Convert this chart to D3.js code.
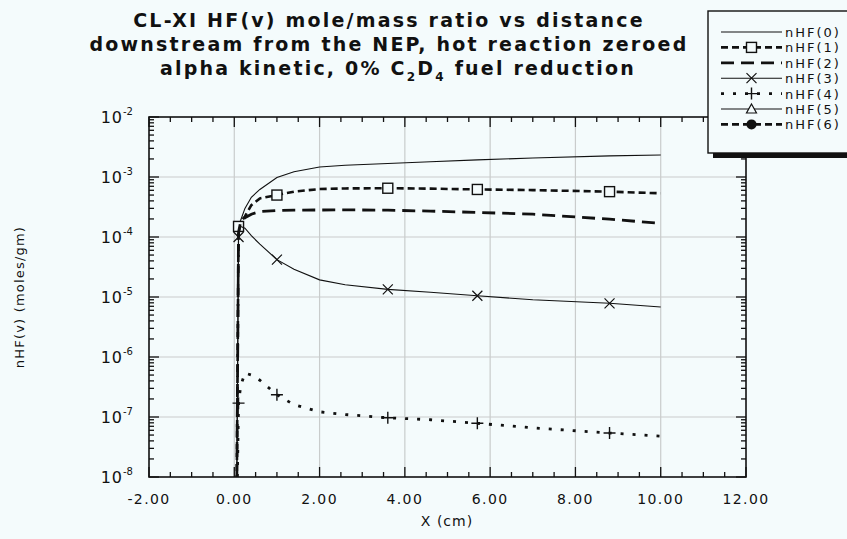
<!DOCTYPE html>
<html>
<head>
<meta charset="utf-8">
<script src="https://cdn.jsdelivr.net/npm/d3@7"></script>
<style>
    body { margin: 0; background: #f4fbfc; }
    svg { display: block; }
    text { font-family: "DejaVu Sans", sans-serif; fill: #111; }
</style>
</head>
<body>
<svg id="chart" width="847" height="539"></svg>
<script>
const xPos = [0.05, 0.1, 0.15, 0.25, 0.4, 0.6, 1.0, 1.4, 2.0, 2.6, 3.6, 4.6, 5.7, 7.0, 8.8, 10.0];
// values below 1e-8 sit under the axis (curves start from zero)
const nHF0 = [1e-9, 1.6e-4, 1.9e-4, 3.0e-4, 4.6e-4, 6.2e-4, 9.8e-4, 1.22e-3, 1.47e-3, 1.57e-3, 1.68e-3, 1.8e-3, 1.93e-3, 2.07e-3, 2.25e-3, 2.33e-3];
const nHF1 = [1e-9, 1.5e-4, 1.8e-4, 2.2e-4, 3.4e-4, 4.4e-4, 5.0e-4, 5.7e-4, 6.3e-4, 6.45e-4, 6.5e-4, 6.4e-4, 6.2e-4, 6.05e-4, 5.7e-4, 5.35e-4];
const nHF2 = [1e-9, 1.2e-4, 1.8e-4, 2.1e-4, 2.4e-4, 2.65e-4, 2.76e-4, 2.8e-4, 2.82e-4, 2.83e-4, 2.8e-4, 2.7e-4, 2.57e-4, 2.4e-4, 1.98e-4, 1.69e-4];
const nHF3 = [1e-9, 1.0e-4, 1.5e-4, 1.4e-4, 1.05e-4, 7.6e-5, 4.2e-5, 2.9e-5, 1.93e-5, 1.6e-5, 1.34e-5, 1.2e-5, 1.05e-5, 9.0e-6, 7.85e-6, 6.8e-6];
const nHF4 = [1e-9, 1.7e-7, 3.3e-7, 5.4e-7, 5.0e-7, 4.1e-7, 2.35e-7, 1.6e-7, 1.22e-7, 1.1e-7, 9.7e-8, 9.0e-8, 7.85e-8, 6.6e-8, 5.4e-8, 4.8e-8];
const nHF5 = []; // nothing visible in range
const nHF6 = [];
const markerX = [0.1, 1.0, 3.6, 5.7, 8.8];

const seriesNames = ["nHF(0)", "nHF(1)", "nHF(2)", "nHF(3)", "nHF(4)", "nHF(5)", "nHF(6)"];
const xTicks = [-2, 0, 2, 4, 6, 8, 10, 12];
const yExponents = [-8, -7, -6, -5, -4, -3, -2];
const titleLines = ["CL-XI HF(v) mole/mass ratio vs distance", "downstream from the NEP, hot reaction zeroed"];

const bg = "#f4fbfc";
const styles = [
    { dash: null, width: 1.1, marker: null },
    { dash: "7,4", width: 2.6, marker: "square" },
    { dash: "13,7", width: 2.8, marker: null },
    { dash: null, width: 1.1, marker: "cross" },
    { dash: "3,9", width: 2.8, marker: "plus" },
    { dash: null, width: 1.1, marker: "triangle" },
    { dash: "7,4", width: 2.6, marker: "circle" }
];
const seriesValues = [nHF0, nHF1, nHF2, nHF3, nHF4, nHF5, nHF6];

const svg = d3.select("#chart");
const pLeft = 149, pRight = 746, pTop = 117, pBottom = 477;

const x = d3.scaleLinear().domain([-2, 12]).range([pLeft, pRight]);
const y = d3.scaleLog().domain([1e-8, 1e-2]).range([pBottom, pTop]);

svg.append("rect").attr("width", 847).attr("height", 539).attr("fill", bg);

// title
const title = svg.append("g").attr("font-size", 19).attr("font-weight", "bold");
titleLines.forEach((t, i) => {
    title.append("text").attr("x", 389).attr("y", 27 + i * 24)
        .attr("text-anchor", "middle").attr("letter-spacing", 2.2).text(t);
});
const t3 = title.append("text").attr("x", 398).attr("y", 75)
    .attr("text-anchor", "middle").attr("letter-spacing", 2.2);
t3.append("tspan").text("alpha kinetic, 0% C");
t3.append("tspan").attr("dy", 6).attr("font-size", 12).text("2");
t3.append("tspan").attr("dy", -6).text("D");
t3.append("tspan").attr("dy", 6).attr("font-size", 12).text("4");
t3.append("tspan").attr("dy", -6).text(" fuel reduction");

// grid
const grid = svg.append("g").attr("stroke", "#c9cccc").attr("stroke-width", 1.2);
grid.selectAll(".gx").data(xTicks.slice(1, -1)).join("line")
    .attr("x1", d => x(d)).attr("x2", d => x(d)).attr("y1", pTop).attr("y2", pBottom);
grid.selectAll(".gy").data(yExponents.slice(1, -1)).join("line")
    .attr("y1", d => y(Math.pow(10, d))).attr("y2", d => y(Math.pow(10, d)))
    .attr("x1", pLeft).attr("x2", pRight);

// curves
svg.append("clipPath").attr("id", "clip").append("rect")
    .attr("x", pLeft).attr("y", pTop).attr("width", pRight - pLeft).attr("height", pBottom - pTop);
const plot = svg.append("g").attr("clip-path", "url(#clip)");
const line = d3.line().x(d => x(d[0])).y(d => y(d[1]));

function drawMarker(g, type, cx, cy) {
    if (type === "square") {
        g.append("rect").attr("x", cx - 5).attr("y", cy - 5).attr("width", 10).attr("height", 10)
            .attr("fill", bg).attr("stroke", "#111").attr("stroke-width", 1.4);
    } else if (type === "cross") {
        g.append("path").attr("d", `M${cx-5},${cy-5}L${cx+5},${cy+5}M${cx-5},${cy+5}L${cx+5},${cy-5}`)
            .attr("stroke", "#111").attr("stroke-width", 1.2).attr("fill", "none");
    } else if (type === "plus") {
        g.append("path").attr("d", `M${cx-6},${cy}L${cx+6},${cy}M${cx},${cy-6}L${cx},${cy+6}`)
            .attr("stroke", "#111").attr("stroke-width", 1.4).attr("fill", "none");
    } else if (type === "triangle") {
        g.append("path").attr("d", `M${cx},${cy-5}L${cx+5},${cy+4}L${cx-5},${cy+4}Z`)
            .attr("stroke", "#111").attr("stroke-width", 1.2).attr("fill", bg);
    } else if (type === "circle") {
        g.append("circle").attr("cx", cx).attr("cy", cy).attr("r", 5).attr("fill", "#111");
    }
}

seriesValues.forEach((vals, i) => {
    if (!vals.length) return;
    const pts = xPos.map((xv, j) => [xv, vals[j]]);
    const st = styles[i];
    plot.append("path").datum(pts).attr("d", line)
        .attr("fill", "none").attr("stroke", "#111")
        .attr("stroke-width", st.width)
        .attr("stroke-dasharray", st.dash);
    if (st.marker) {
        pts.filter(p => markerX.includes(p[0])).forEach(p => drawMarker(plot, st.marker, x(p[0]), y(p[1])));
    }
});

// frame and ticks
svg.append("rect").attr("x", pLeft).attr("y", pTop).attr("width", pRight - pLeft).attr("height", pBottom - pTop)
    .attr("fill", "none").attr("stroke", "#111").attr("stroke-width", 1.6);

const ticks = svg.append("g").attr("stroke", "#111").attr("stroke-width", 1.3);
const xMinor = d3.range(-2, 12.01, 0.5);
xMinor.forEach(v => {
    const len = Number.isInteger(v / 2) ? 10 : 5;
    ticks.append("line").attr("x1", x(v)).attr("x2", x(v)).attr("y1", pBottom).attr("y2", pBottom - len);
    ticks.append("line").attr("x1", x(v)).attr("x2", x(v)).attr("y1", pTop).attr("y2", pTop + len);
});
yExponents.forEach(e => {
    d3.range(1, 10).forEach(m => {
        if (e === -2 && m > 1) return;
        const v = m * Math.pow(10, e);
        const len = m === 1 ? 10 : 5;
        ticks.append("line").attr("x1", pLeft).attr("x2", pLeft + len).attr("y1", y(v)).attr("y2", y(v));
        ticks.append("line").attr("x1", pRight).attr("x2", pRight - len).attr("y1", y(v)).attr("y2", y(v));
    });
});

// tick labels
svg.append("g").attr("font-size", 14).attr("letter-spacing", 1.4)
    .selectAll("text").data(xTicks).join("text")
    .attr("x", d => x(d)).attr("y", 504).attr("text-anchor", "middle")
    .text(d => d3.format(".2f")(d).replace("−", "-"));

const yl = svg.append("g").attr("font-size", 16);
yExponents.forEach(e => {
    const t = yl.append("text").attr("x", 133).attr("y", y(Math.pow(10, e)) + 6).attr("text-anchor", "end");
    t.append("tspan").attr("letter-spacing", 1).text("10");
    t.append("tspan").attr("dy", -8).attr("font-size", 10).text(String(e));
});

// axis titles
svg.append("text").attr("x", 447).attr("y", 526).attr("text-anchor", "middle")
    .attr("font-size", 14).attr("letter-spacing", 1).text("X (cm)");
svg.append("text").attr("transform", "translate(24,297) rotate(-90)").attr("text-anchor", "middle")
    .attr("font-size", 13).attr("letter-spacing", 1.2).text("nHF(v) (moles/gm)");

// legend on top of the plot corner
const lg = svg.append("g");
lg.append("rect").attr("x", 713).attr("y", 16).attr("width", 150).attr("height", 142).attr("fill", "#111");
lg.append("rect").attr("x", 708).attr("y", 11).attr("width", 150).attr("height", 142)
    .attr("fill", bg).attr("stroke", "#111").attr("stroke-width", 1.4);
seriesNames.forEach((name, i) => {
    const ly = 32 + i * 15.4;
    const st = styles[i];
    lg.append("line").attr("x1", 721).attr("x2", 782).attr("y1", ly).attr("y2", ly)
        .attr("stroke", "#111").attr("stroke-width", st.width).attr("stroke-dasharray", st.dash);
    if (st.marker) drawMarker(lg, st.marker, 751.5, ly);
    lg.append("text").attr("x", 785).attr("y", ly + 5).attr("font-size", 13)
        .attr("letter-spacing", 2).text(name);
});
</script>
</body>
</html>
